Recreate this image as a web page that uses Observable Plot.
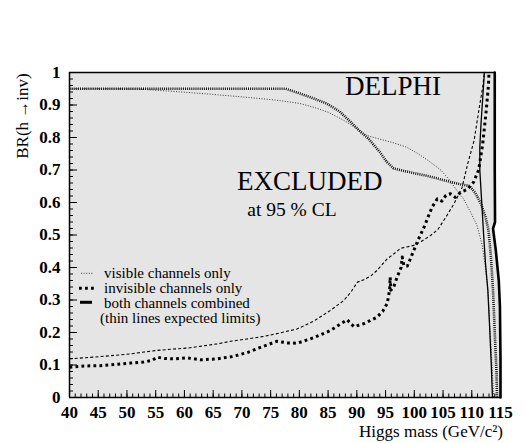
<!DOCTYPE html>
<html><head><meta charset="utf-8">
<script src="https://cdn.jsdelivr.net/npm/d3@7"></script>
<script src="https://cdn.jsdelivr.net/npm/@observablehq/plot@0.6"></script>
<style>
html,body{margin:0;padding:0;background:#fff;}
#wrap{position:relative;width:526px;height:443px;font-family:"Liberation Serif","Times New Roman",serif;}
#wrap svg{position:absolute;left:0;top:0;}
#wrap svg, #wrap svg g, #wrap svg text{font-family:"Liberation Serif","Times New Roman",serif !important;}
</style>
</head><body><div id="wrap"></div>
<script>
// ---- data (mass GeV/c^2, BR) ----
const visibleExpected = [[40,0.950],[46,0.950],[52,0.949],[58,0.942],[64,0.934],[70,0.925],[76,0.915],[80,0.905],[82.5,0.893],[85,0.878],[88,0.850],[90,0.827],[91.8,0.806],[94,0.795],[96.5,0.783],[98.7,0.770],[100.5,0.752],[102.5,0.728],[104.6,0.700],[106,0.672],[107.3,0.640],[108.6,0.610],[109.8,0.570],[110.9,0.530],[111.8,0.470],[112.3,0.410],[112.8,0.330],[113.2,0.200],[113.6,0.080],[113.8,0.000]];
const visibleObserved = [[40,0.950],[50,0.950],[60,0.950],[70,0.950],[77.6,0.950],[80,0.936],[82.5,0.920],[84.8,0.904],[87,0.880],[88.8,0.850],[90.6,0.818],[92,0.797],[94,0.755],[95.2,0.725],[96.4,0.705],[98,0.698],[100,0.690],[102,0.683],[104,0.674],[106.3,0.663],[108,0.656],[109.6,0.651],[110.6,0.630],[111.6,0.596],[112.4,0.555],[112.9,0.515],[113.3,0.440],[113.7,0.330],[114.0,0.200],[114.3,0.080],[114.4,0.000]];
const invisibleExpected = [[40,0.119],[42.5,0.122],[45.4,0.126],[48,0.130],[50.6,0.134],[53,0.140],[55.3,0.145],[58,0.149],[60.5,0.152],[63,0.158],[65.7,0.165],[68,0.173],[70.9,0.180],[73.8,0.188],[76.5,0.198],[79.6,0.211],[82.5,0.235],[85.4,0.268],[87.7,0.298],[89,0.325],[90.1,0.355],[91.2,0.362],[92.5,0.375],[93.5,0.391],[95.2,0.425],[97.0,0.450],[97.6,0.459],[99.9,0.468],[101.2,0.480],[102.8,0.498],[104.1,0.517],[105.5,0.555],[106.9,0.596],[108.3,0.645],[109.3,0.720],[110.4,0.790],[111.2,0.880],[111.9,0.955],[112.2,1.0]];
const invisibleObserved = [[40,0.093],[42.5,0.097],[45.4,0.098],[48,0.102],[50.6,0.106],[52.9,0.109],[54.3,0.114],[55.3,0.124],[56.5,0.120],[58.2,0.119],[60.5,0.122],[62.8,0.116],[65.7,0.119],[68.3,0.126],[70.9,0.138],[73.5,0.156],[76.1,0.173],[78,0.168],[79.6,0.167],[82.5,0.184],[85.4,0.206],[87.3,0.228],[88.3,0.239],[89.5,0.218],[91.2,0.227],[93.5,0.247],[94.5,0.265],[95.3,0.290],[95.7,0.330],[95.8,0.370],[95.9,0.330],[96.4,0.339],[97.0,0.370],[97.7,0.400],[97.9,0.432],[98.2,0.405],[98.8,0.405],[99.9,0.452],[100.8,0.490],[101.7,0.524],[102.5,0.560],[103.1,0.586],[104.0,0.611],[104.8,0.604],[105.5,0.622],[106.3,0.627],[107.1,0.616],[108.1,0.632],[109.2,0.640],[110.3,0.662],[111.2,0.700],[111.9,0.780],[112.5,0.880],[112.9,0.960],[113.0,1.0]];
const combinedExpected = [[112.2,1.0],[111.9,0.92],[111.6,0.84],[111.4,0.77],[111.4,0.70],[111.6,0.64],[111.8,0.58],[112.1,0.49],[112.4,0.41],[112.8,0.33],[113.1,0.22],[113.4,0.10],[113.6,0.0]];
const combinedObserved = [[114.0,1.0],[114.0,0.85],[114.0,0.70],[114.05,0.54],[113.7,0.52],[114.2,0.45],[114.7,0.36],[114.9,0.28],[115.0,0.12],[115.0,0.0]];

const xTickValues = [40,45,50,55,60,65,70,75,80,85,90,95,100,105,110,115];
const yTickValues = [0,0.1,0.2,0.3,0.4,0.5,0.6,0.7,0.8,0.9,1];
const yTickLabels = ["0","0.1","0.2","0.3","0.4","0.5","0.6","0.7","0.8","0.9","1"];
const legendLabels = ["visible channels only","invisible channels only","both channels combined","(thin lines expected limits)"];
const xTitle = "Higgs mass (GeV/c²)";
const yTitle = "BR(h →inv)";

const X = d => d[0], Y = d => d[1];
const FONT = "'Liberation Serif', 'Times New Roman', serif";

const styleVisExp = {stroke:"#333", strokeWidth:1, strokeDasharray:"1,1.6", strokeLinecap:"butt"};
const styleVisObs = {stroke:"#111", strokeWidth:2.6, strokeDasharray:"1,1.1", strokeLinecap:"butt"};
const styleInvExp = {stroke:"#000", strokeWidth:1.1, strokeDasharray:"3,2.2", strokeLinecap:"butt"};
const styleInvObs = {stroke:"#000", strokeWidth:3, strokeDasharray:"2.8,3.2", strokeLinecap:"butt"};
const styleCombExp = {stroke:"#000", strokeWidth:1.3};
const styleCombObs = {stroke:"#000", strokeWidth:2.6};

const minorX = d3.range(40, 116, 1);
const minorY = d3.range(0, 51).map(i => i / 50);
const xMin = xTickValues[0], xMax = xTickValues[xTickValues.length - 1];

const chart = Plot.plot({
  width: 526, height: 443,
  marginLeft: 69, marginRight: 26, marginTop: 72, marginBottom: 46,
  style: {fontFamily: FONT, background: "white", color: "black"},
  x: {domain: [xMin, xMax]},
  y: {domain: [0, 1]},
  marks: [
    Plot.areaX(combinedObserved, {y: Y, x1: () => xMin, x2: X, fill: "#e5e5e5"}),
    Plot.line(visibleExpected, {x: X, y: Y, ...styleVisExp}),
    Plot.line(visibleObserved, {x: X, y: Y, ...styleVisObs}),
    Plot.line(invisibleExpected, {x: X, y: Y, ...styleInvExp}),
    Plot.line(invisibleObserved, {x: X, y: Y, ...styleInvObs}),
    Plot.line(combinedExpected, {x: X, y: Y, ...styleCombExp}),
    Plot.line(combinedObserved, {x: X, y: Y, ...styleCombObs}),
    Plot.text(["DELPHI"], {x: 96.3, y: 0.958, text: d => d, fontSize: 27, fontFamily: FONT, fill: "black"}),
    Plot.text(["EXCLUDED"], {x: 81.8, y: 0.666, text: d => d, fontSize: 27, fontFamily: FONT, fill: "black"}),
    Plot.text(["at 95 % CL"], {x: 78.7, y: 0.577, text: d => d, fontSize: 19.5, fontFamily: FONT, fill: "black"}),
    Plot.axisX({ticks: minorX, tickSize: -3.5, tickFormat: () => "", label: null}),
    Plot.axisX({ticks: xTickValues, tickSize: -7, tickFormat: () => "", label: null}),
    Plot.axisX({ticks: xTickValues, tickSize: 0, tickPadding: 8, fontSize: 17, fontWeight: "bold", fontFamily: FONT, label: null}),
    Plot.axisY({ticks: minorY, tickSize: -4, tickFormat: () => "", label: null}),
    Plot.axisY({ticks: yTickValues, tickSize: -8, tickFormat: () => "", label: null}),
    Plot.axisY({ticks: yTickValues, tickSize: 0, tickPadding: 9, tickFormat: d => yTickLabels[yTickValues.indexOf(d)], fontSize: 17, fontWeight: "bold", fontFamily: FONT, label: null}),
    // box: left, bottom and top edges (right side is the non-excluded white region)
    Plot.ruleX([xMin], {y1: 0, y2: 1, stroke: "black", strokeWidth: 1.5}),
    Plot.ruleY([0], {x1: xMin, x2: xMax, stroke: "black", strokeWidth: 1.5}),
    Plot.ruleY([1], {x1: xMin, x2: combinedObserved[0][0], stroke: "black", strokeWidth: 1.5})
  ]
});
document.getElementById("wrap").appendChild(chart);

// overlay: axis titles and legend
const ov = d3.select("#wrap").append("svg").attr("width", 526).attr("height", 443)
  .style("pointer-events", "none");
ov.append("text").attr("x", 503).attr("y", 437).attr("text-anchor", "end").attr("font-size", 17).text(xTitle);
ov.append("text").attr("transform", "translate(28,116) rotate(-90)").attr("text-anchor", "middle").attr("font-size", 17).text(yTitle);

const legendStyles = [styleVisExp, styleInvObs, {stroke:"#000", strokeWidth:3}];
const legendSamples = [[81, 94, 273.3], [79, 97, 288.3], [80, 92, 302.3]];
legendStyles.forEach((s, i) => {
  const [x1, x2, y] = legendSamples[i];
  ov.append("line").attr("x1", x1).attr("x2", x2).attr("y1", y).attr("y2", y)
    .attr("stroke", s.stroke).attr("stroke-width", s.strokeWidth)
    .attr("stroke-dasharray", s.strokeDasharray || null);
});
legendLabels.forEach((t, i) => {
  ov.append("text").attr("x", i === 3 ? 100 : 104).attr("y", 278.3 + 15 * i)
    .attr("font-size", 15).text(t);
});
</script></body></html>
